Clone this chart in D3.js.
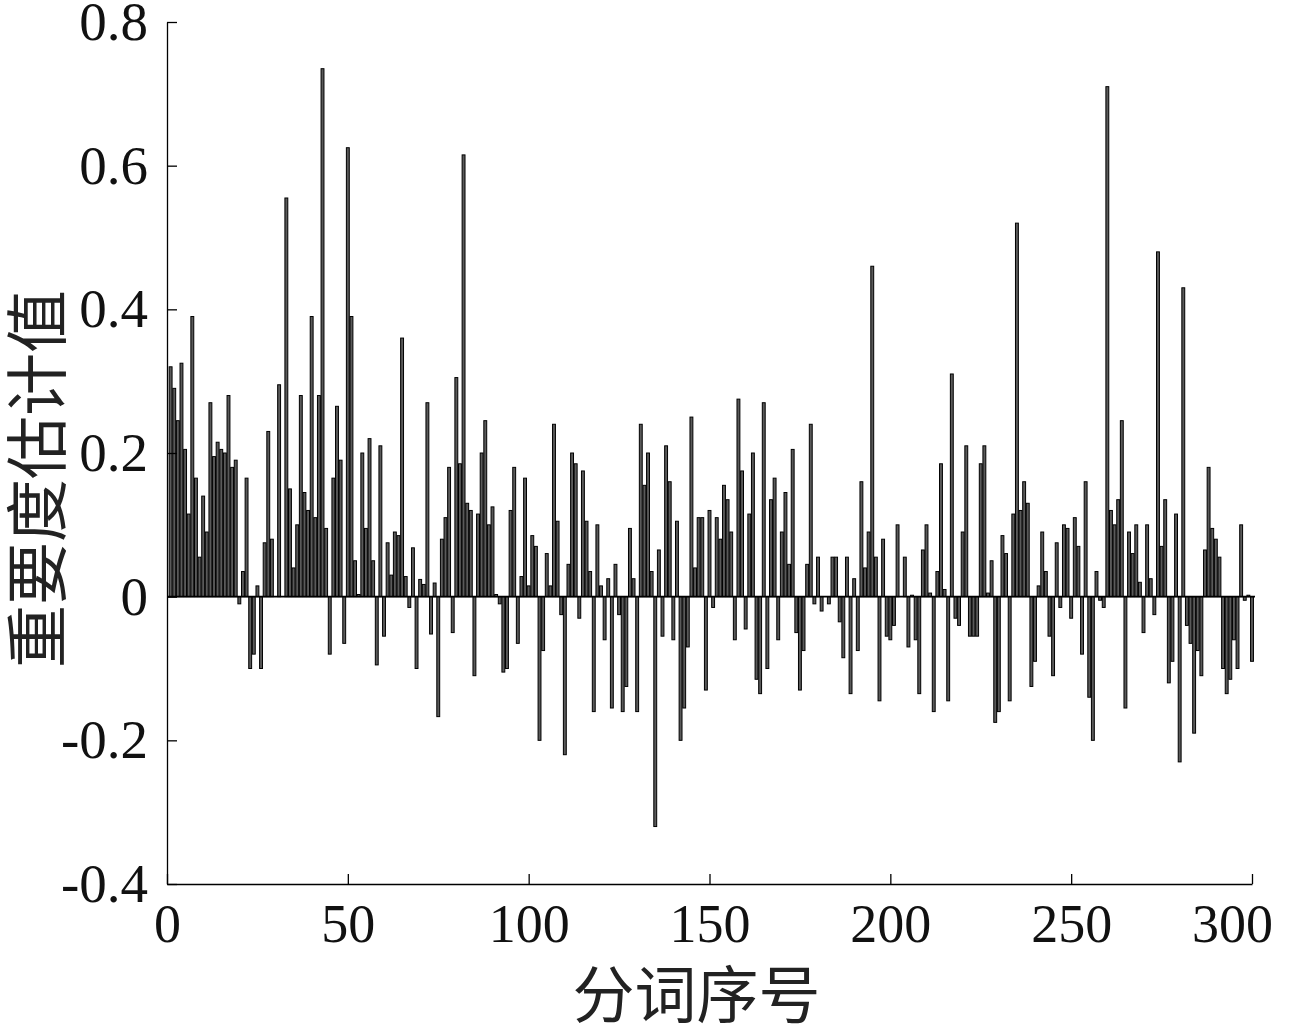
<!DOCTYPE html>
<html><head><meta charset="utf-8">
<script src="https://cdn.jsdelivr.net/npm/d3@7"></script>
<style>body{margin:0;background:#fff}</style>
</head><body>
<svg id="c" width="1298" height="1032"></svg>
<script>
const xTicks = [0, 50, 100, 150, 200, 250, 300];
const yTicks = [-0.4, -0.2, 0, 0.2, 0.4, 0.6, 0.8];
const yTickLabels = ["-0.4", "-0.2", "0", "0.2", "0.4", "0.6", "0.8"];
const xTitle = "分词序号";
const yTitle = "重要度估计值";
const values = [
0.32,0.29,0.245,0.325,0.205,0.115,0.39,0.165,0.055,0.14,
0.09,0.27,0.195,0.215,0.205,0.20,0.28,0.18,0.19,-0.01,
0.035,0.165,-0.10,-0.08,0.015,-0.10,0.075,0.23,0.08,0.0,
0.295,0.0,0.555,0.15,0.04,0.10,0.28,0.145,0.12,0.39,
0.11,0.28,0.735,0.095,-0.08,0.165,0.265,0.19,-0.065,0.625,
0.39,0.05,0.003,0.20,0.095,0.22,0.05,-0.095,0.21,-0.055,
0.075,0.03,0.09,0.085,0.36,0.028,-0.015,0.068,-0.10,0.024,
0.017,0.27,-0.052,0.019,-0.167,0.08,0.11,0.18,-0.05,0.305,
0.185,0.615,0.13,0.12,-0.11,0.115,0.20,0.245,0.10,0.125,
0.003,-0.01,-0.105,-0.10,0.12,0.18,-0.065,0.028,0.165,0.015,
0.085,0.07,-0.20,-0.075,0.06,0.015,0.24,0.105,-0.025,-0.22,
0.045,0.20,0.185,-0.03,0.175,0.105,0.035,-0.16,0.10,0.015,
-0.06,0.025,-0.155,0.045,-0.025,-0.16,-0.125,0.095,0.025,-0.16,
0.24,0.155,0.20,0.035,-0.32,0.065,-0.055,0.21,0.16,-0.06,
0.105,-0.20,-0.155,-0.07,0.25,0.04,0.11,0.11,-0.13,0.12,
-0.015,0.11,0.08,0.155,0.135,0.09,-0.06,0.275,0.175,-0.045,
0.115,0.20,-0.115,-0.135,0.27,-0.10,0.135,0.165,-0.06,0.09,
0.145,0.045,0.205,-0.05,-0.13,-0.075,0.045,0.24,-0.01,0.055,
-0.02,0.0,-0.01,0.055,0.055,-0.035,-0.085,0.055,-0.135,0.025,
-0.075,0.16,0.04,0.09,0.46,0.055,-0.145,0.08,-0.055,-0.06,
-0.04,0.10,0.0,0.055,-0.07,0.002,-0.06,-0.135,0.065,0.10,
0.005,-0.16,0.035,0.185,0.01,-0.145,0.31,-0.03,-0.04,0.09,
0.21,-0.055,-0.055,-0.055,0.185,0.21,0.005,0.05,-0.175,-0.16,
0.085,0.06,-0.145,0.115,0.52,0.12,0.16,0.13,-0.125,-0.09,
0.015,0.09,0.035,-0.055,-0.11,0.075,-0.015,0.10,0.095,-0.03,
0.11,0.07,-0.08,0.16,-0.14,-0.20,0.035,-0.005,-0.015,0.71,
0.12,0.10,0.135,0.245,-0.155,0.09,0.06,0.10,0.02,-0.05,
0.10,0.025,-0.025,0.48,0.07,0.135,-0.12,-0.09,0.115,-0.23,
0.43,-0.04,-0.065,-0.19,-0.075,-0.11,0.065,0.18,0.095,0.08,
0.055,-0.10,-0.135,-0.115,-0.06,-0.10,0.10,-0.005,0.002,-0.09
];
const indices = values.map((v, i) => i + 1);

const svg = d3.select("#c");
const x = d3.scaleLinear().domain([0, 300]).range([167, 1252]);
const y = d3.scaleLinear().domain([-0.4, 0.8]).range([884, 22]);
const bw = (x(1) - x(0)) * 0.8;

svg.append("g").selectAll("rect").data(values).join("rect")
  .attr("x", (d, i) => x(indices[i]) - bw / 2)
  .attr("width", bw)
  .attr("y", d => y(Math.max(0, d)))
  .attr("height", d => Math.abs(y(d) - y(0)))
  .attr("fill", "#5a5a5a")
  .attr("stroke", "#000")
  .attr("stroke-width", 1);

// baseline
svg.append("line")
  .attr("x1", x(0)).attr("x2", x(300) + 3)
  .attr("y1", y(0)).attr("y2", y(0))
  .attr("stroke", "#000").attr("stroke-width", 1.6);

const font = "'Liberation Serif','Times New Roman',serif";

const yAxis = d3.axisLeft(y).tickValues(yTicks)
  .tickFormat((d, i) => yTickLabels[i])
  .tickSizeInner(-10).tickSizeOuter(0).tickPadding(19);
const gy = svg.append("g").attr("transform", `translate(${x(0)},0)`).call(yAxis);
gy.selectAll("text").attr("font-family", font).attr("font-size", 55).attr("fill", "#111");

const xAxis = d3.axisBottom(x).tickValues(xTicks)
  .tickFormat(d3.format("d"))
  .tickSizeInner(-10).tickSizeOuter(0).tickPadding(20);
const gx = svg.append("g").attr("transform", `translate(0,${y(-0.4)})`).call(xAxis);
gx.selectAll("text").attr("font-family", font).attr("font-size", 54).attr("fill", "#111")
  .attr("dx", d => d === 300 ? -20 : 0);

svg.selectAll(".domain, .tick line").attr("stroke", "#000").attr("stroke-width", 1.3);

svg.append("text")
  .attr("x", (x(0) + x(300)) / 2 - 13).attr("y", 1018)
  .attr("text-anchor", "middle")
  .attr("font-family", "'Noto Sans CJK SC'")
  .attr("font-size", 62).attr("fill", "#222")
  .text(xTitle);

svg.append("text")
  .attr("transform", `translate(60,${y(0.2) + 26}) rotate(-90)`)
  .attr("text-anchor", "middle")
  .attr("font-family", "'Noto Sans CJK SC'")
  .attr("font-size", 63).attr("fill", "#222")
  .text(yTitle);
</script>
</body></html>
